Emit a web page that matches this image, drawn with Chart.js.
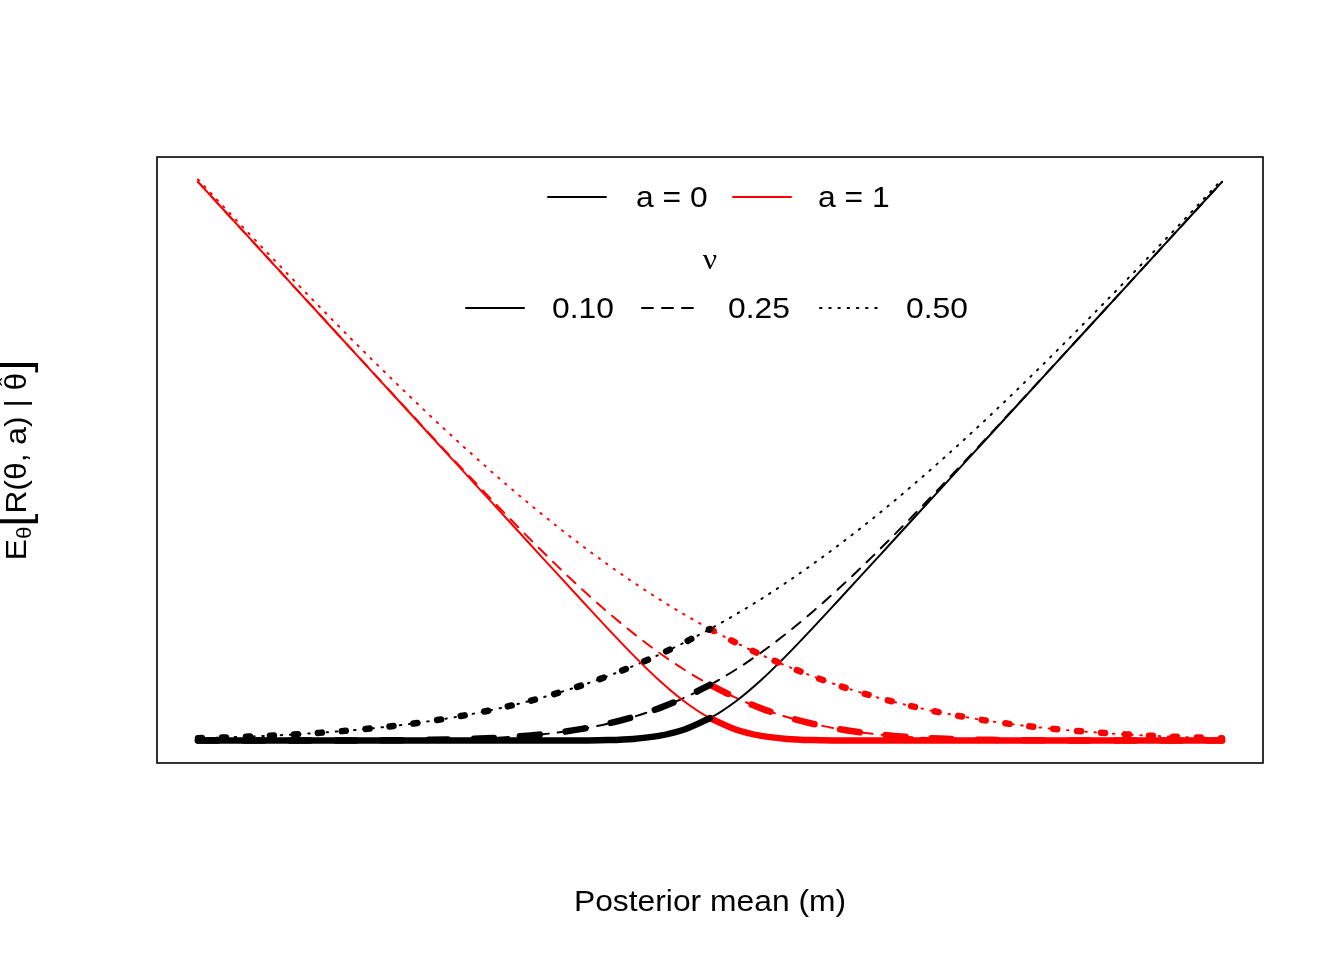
<!DOCTYPE html>
<html>
<head>
<meta charset="utf-8">
<title>Expected risk</title>
<script src="https://cdn.jsdelivr.net/npm/chart.js@4/dist/chart.umd.min.js"></script>
<style>
	body { margin: 0; background: #ffffff; }
	canvas { display: block; }
</style>
</head>
<body>
<canvas id="graficoRisco" width="1344" height="960"></canvas>
<script>
// posterior mean (x values)
var mValues = [-1, -0.95, -0.9, -0.85, -0.8, -0.75, -0.7, -0.65, -0.6, -0.55,
	-0.5, -0.45, -0.4, -0.35, -0.3, -0.25, -0.2, -0.15, -0.1, -0.05,
	0, 0.05, 0.1, 0.15, 0.2, 0.25, 0.3, 0.35, 0.4, 0.45,
	0.5, 0.55, 0.6, 0.65, 0.7, 0.75, 0.8, 0.85, 0.9, 0.95, 1];

// a = 0 (black)
var riscoA0Nu010 = [0, 0, 0, 0, 0, 0, 0, 0, 0, 0,
	0, 0, 0, 0, 0, 0.0002, 0.0008, 0.0029, 0.0083, 0.0198,
	0.0399, 0.0698, 0.1083, 0.1529, 0.2008, 0.2502, 0.3, 0.35, 0.4, 0.45,
	0.5, 0.55, 0.6, 0.65, 0.7, 0.75, 0.8, 0.85, 0.9, 0.95, 1];
var riscoA0Nu025 = [0, 0, 0, 0, 0, 0.0001, 0.0002, 0.0004, 0.0007, 0.0012,
	0.0021, 0.0036, 0.0058, 0.0092, 0.014, 0.0208, 0.0301, 0.0422, 0.0576, 0.0767,
	0.0997, 0.1267, 0.1576, 0.1922, 0.2301, 0.2708, 0.314, 0.3592, 0.4058, 0.4536,
	0.5021, 0.5512, 0.6007, 0.6504, 0.7002, 0.7501, 0.8, 0.85, 0.9, 0.95, 1];
var riscoA0Nu050 = [0.0042, 0.0055, 0.0071, 0.0091, 0.0116, 0.0147, 0.0183, 0.0228, 0.0281, 0.0343,
	0.0417, 0.0502, 0.0601, 0.0714, 0.0843, 0.0989, 0.1152, 0.1334, 0.1534, 0.1755,
	0.1995, 0.2255, 0.2534, 0.2834, 0.3152, 0.3489, 0.3843, 0.4214, 0.4601, 0.5002,
	0.5417, 0.5843, 0.6281, 0.6728, 0.7183, 0.7647, 0.8116, 0.8591, 0.9071, 0.9555, 1.0042];

// a = 1 (red)
var riscoA1Nu010 = [1, 0.95, 0.9, 0.85, 0.8, 0.75, 0.7, 0.65, 0.6, 0.55,
	0.5, 0.45, 0.4, 0.35, 0.3, 0.2502, 0.2008, 0.1529, 0.1083, 0.0698,
	0.0399, 0.0198, 0.0083, 0.0029, 0.0008, 0.0002, 0, 0, 0, 0,
	0, 0, 0, 0, 0, 0, 0, 0, 0, 0, 0];
var riscoA1Nu025 = [1, 0.95, 0.9, 0.85, 0.8, 0.7501, 0.7002, 0.6504, 0.6007, 0.5512,
	0.5021, 0.4536, 0.4058, 0.3592, 0.314, 0.2708, 0.2301, 0.1922, 0.1576, 0.1267,
	0.0997, 0.0767, 0.0576, 0.0422, 0.0301, 0.0208, 0.014, 0.0092, 0.0058, 0.0036,
	0.0021, 0.0012, 0.0007, 0.0004, 0.0002, 0.0001, 0, 0, 0, 0, 0];
var riscoA1Nu050 = [1.0042, 0.9555, 0.9071, 0.8591, 0.8116, 0.7647, 0.7183, 0.6728, 0.6281, 0.5843,
	0.5417, 0.5002, 0.4601, 0.4214, 0.3843, 0.3489, 0.3152, 0.2834, 0.2534, 0.2255,
	0.1995, 0.1755, 0.1534, 0.1334, 0.1152, 0.0989, 0.0843, 0.0714, 0.0601, 0.0502,
	0.0417, 0.0343, 0.0281, 0.0228, 0.0183, 0.0147, 0.0116, 0.0091, 0.0071, 0.0055, 0.0042];

// legend texts
var legendaAcoes = ["a = 0", "a = 1"];
var legendaCores = ["#000000", "#ff0000"];
var legendaTituloNu = "\u03bd";
var legendaNu = ["0.10", "0.25", "0.50"];

var tituloX = "Posterior mean (m)";

// dash patterns for thin (lwd 1) and thick (lwd 3) lines
var tracoFino = [[], [11, 9], [1.5, 7.7]];
var tracoGrosso = [[], [20, 26], [4, 20]];
var larguraFina = 2;
var larguraGrossa = 6.5;
var fonte = "30px 'Liberation Sans', Arial, sans-serif";
var escalaTexto = 1.06;

function pontos(valores, inicio, fim) {
	var lista = [];
	for (var i = inicio; i <= fim; i++) {
		lista.push({ x: mValues[i], y: valores[i] });
	}
	return lista;
}

function serie(valores, cor, largura, traco, inicio, fim) {
	return {
		data: pontos(valores, inicio, fim),
		borderColor: cor,
		backgroundColor: cor,
		borderWidth: largura,
		borderDash: traco,
		borderCapStyle: "round",
		borderJoinStyle: "round",
		pointRadius: 0,
		fill: false,
		cubicInterpolationMode: "monotone",
	};
}

var ultimo = mValues.length - 1;
var meio = mValues.indexOf(0);

var seriesA0 = [riscoA0Nu010, riscoA0Nu025, riscoA0Nu050];
var seriesA1 = [riscoA1Nu010, riscoA1Nu025, riscoA1Nu050];

var datasets = [];
// thick lower envelope first (drawn on top)
for (var i = 0; i < 3; i++) {
	datasets.push(serie(seriesA0[i], "#000000", larguraGrossa, tracoGrosso[i], 0, meio));
	datasets.push(serie(seriesA1[i], "#ff0000", larguraGrossa, tracoGrosso[i], meio, ultimo));
}
for (var i = 0; i < 3; i++) {
	datasets.push(serie(seriesA0[i], "#000000", larguraFina, tracoFino[i], 0, ultimo));
	datasets.push(serie(seriesA1[i], "#ff0000", larguraFina, tracoFino[i], 0, ultimo));
}

function textoLargo(ctx, texto, x, y, alinhamento) {
	var largura = ctx.measureText(texto).width * escalaTexto;
	var x0 = x;
	if (alinhamento == "center") x0 = x - largura / 2;
	ctx.save();
	ctx.translate(x0, y);
	ctx.scale(escalaTexto, 1);
	ctx.textAlign = "left";
	ctx.fillText(texto, 0, 0);
	ctx.restore();
	return largura;
}

function amostraLinha(ctx, x1, x2, y, cor, traco) {
	ctx.save();
	ctx.strokeStyle = cor;
	ctx.lineWidth = larguraFina;
	ctx.lineCap = "round";
	ctx.setLineDash(traco);
	ctx.beginPath();
	ctx.moveTo(x1, y);
	ctx.lineTo(x2, y);
	ctx.stroke();
	ctx.restore();
}

// box, axis titles and legend, drawn like base R graphics
var plugin = {
	id: "moldura",
	afterDraw: function (chart) {
		var ctx = chart.ctx;
		var area = chart.chartArea;
		var cx = (area.left + area.right) / 2;
		var cy = (area.top + area.bottom) / 2;

		ctx.save();
		ctx.strokeStyle = "#000000";
		ctx.lineWidth = 1.6;
		ctx.strokeRect(area.left, area.top, area.right - area.left, area.bottom - area.top);

		ctx.fillStyle = "#000000";
		ctx.font = fonte;
		ctx.textBaseline = "middle";

		// x title
		textoLargo(ctx, tituloX, cx, 903, "center");

		// y title: E_theta[R(theta, a) | theta-hat]
		var sans = "'Liberation Sans', Arial, sans-serif";
		var partes = [
			{ t: "E", f: "30px " + sans, dy: 0 },
			{ t: "\u03b8", f: "21px " + sans, dy: 7 },
			{ t: "[", f: "44px " + sans, dy: -1 },
			{ t: "R(\u03b8, a) | ", f: "30px " + sans, dy: 0 },
			{ t: "\u03b8", f: "30px " + sans, dy: 0, chapeu: true },
			{ t: "]", f: "44px " + sans, dy: -1 },
		];
		var total = 0;
		for (var i = 0; i < partes.length; i++) {
			ctx.font = partes[i].f;
			total += ctx.measureText(partes[i].t).width * escalaTexto;
		}
		ctx.save();
		ctx.translate(18, cy);
		ctx.rotate(-Math.PI / 2);
		var u = -total / 2;
		for (var i = 0; i < partes.length; i++) {
			ctx.font = partes[i].f;
			var w = textoLargo(ctx, partes[i].t, u, partes[i].dy, "left");
			if (partes[i].chapeu) {
				ctx.font = "24px " + sans;
				textoLargo(ctx, "\u02c6", u + w / 2, -9, "center");
			}
			u += w;
		}
		ctx.restore();

		// legend: action
		ctx.font = fonte;
		var y1 = area.top + 40;
		amostraLinha(ctx, cx - 162, cx - 104, y1, legendaCores[0], []);
		textoLargo(ctx, legendaAcoes[0], cx - 74, y1 + 2, "left");
		amostraLinha(ctx, cx + 23, cx + 81, y1, legendaCores[1], []);
		textoLargo(ctx, legendaAcoes[1], cx + 108, y1 + 2, "left");

		// legend: nu
		ctx.font = "30px 'Liberation Serif', serif";
		textoLargo(ctx, legendaTituloNu, cx, area.top + 104, "center");
		ctx.font = fonte;
		var y2 = area.top + 151;
		var inicios = [cx - 244, cx - 68, cx + 110];
		for (var i = 0; i < legendaNu.length; i++) {
			amostraLinha(ctx, inicios[i], inicios[i] + 58, y2, "#000000", tracoFino[i]);
			textoLargo(ctx, legendaNu[i], inicios[i] + 86, y2 + 2, "left");
		}
		ctx.restore();
	},
};

var grafico = new Chart(document.getElementById("graficoRisco"), {
	type: "line",
	data: { datasets: datasets },
	options: {
		responsive: false,
		animation: false,
		devicePixelRatio: 1,
		layout: { padding: { left: 157, right: 81, top: 157, bottom: 197 } },
		scales: {
			x: { type: "linear", min: -1.08, max: 1.08, display: false },
			y: { type: "linear", min: -0.0402, max: 1.0444, display: false },
		},
		plugins: {
			legend: { display: false },
			tooltip: { enabled: false },
		},
	},
	plugins: [plugin],
});
</script>
</body>
</html>
